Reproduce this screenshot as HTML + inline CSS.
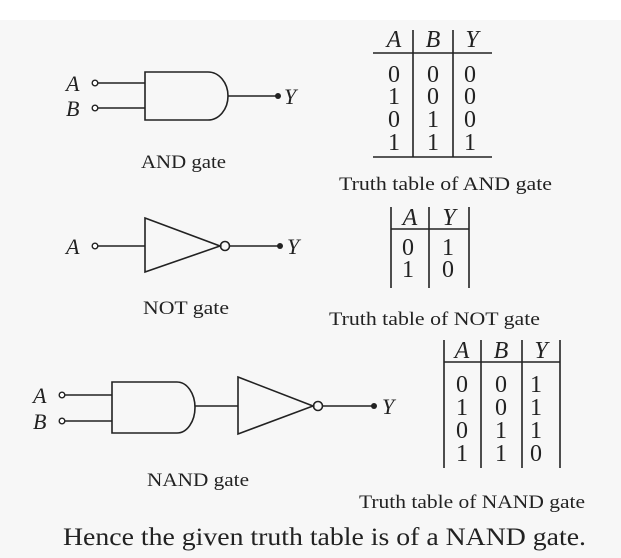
<!DOCTYPE html>
<html><head><meta charset="utf-8"><style>
html,body{margin:0;padding:0;background:#f7f7f7;}
svg{display:block}
text{font-family:"Liberation Serif",serif;fill:#222;}
.i{font-style:italic}
</style></head><body>
<svg width="621" height="558" viewBox="0 0 621 558" xmlns="http://www.w3.org/2000/svg">
<rect x="0" y="0" width="621" height="20" fill="#ffffff"/>
<g stroke="#222" stroke-width="1.6" fill="none">
<line x1="98" y1="83" x2="145" y2="83"/>
<line x1="98" y1="108" x2="145" y2="108"/>
<path d="M145,72 L208,72 A20,24 0 0 1 208,120 L145,120 Z"/>
<line x1="228" y1="96" x2="278" y2="96"/>
<line x1="98" y1="246" x2="145" y2="246"/>
<path d="M145,218 L220,246 L145,272 Z"/>
<circle cx="225" cy="246" r="4.5"/>
<line x1="230" y1="246" x2="280" y2="246"/>
<line x1="65" y1="395" x2="112" y2="395"/>
<line x1="65" y1="421" x2="112" y2="421"/>
<path d="M112,382 L177,382 A18,25.5 0 0 1 177,433 L112,433 Z"/>
<line x1="195" y1="406" x2="238" y2="406"/>
<path d="M238,377 L313,406 L238,434 Z"/>
<circle cx="318" cy="406" r="4.5"/>
<line x1="323" y1="406" x2="374" y2="406"/>
<line x1="373" y1="53" x2="492" y2="53"/>
<line x1="373" y1="157" x2="492" y2="157"/>
<line x1="413" y1="30" x2="413" y2="157"/>
<line x1="453" y1="30" x2="453" y2="157"/>
<line x1="391" y1="207" x2="391" y2="288"/>
<line x1="429" y1="207" x2="429" y2="288"/>
<line x1="469" y1="207" x2="469" y2="288"/>
<line x1="391" y1="229" x2="469" y2="229"/>
<line x1="444" y1="340" x2="444" y2="468"/>
<line x1="481" y1="340" x2="481" y2="468"/>
<line x1="522" y1="340" x2="522" y2="468"/>
<line x1="560" y1="340" x2="560" y2="468"/>
<line x1="444" y1="362" x2="560" y2="362"/>
</g>
<g fill="#fff" stroke="#222" stroke-width="1.4">
<circle cx="95" cy="83" r="2.8"/><circle cx="95" cy="108" r="2.8"/>
<circle cx="95" cy="246" r="2.8"/>
<circle cx="62" cy="395" r="2.8"/><circle cx="62" cy="421" r="2.8"/>
</g>
<g fill="#222"><circle cx="278" cy="96" r="3"/><circle cx="280" cy="246" r="3"/><circle cx="374" cy="406" r="3"/></g>
<g font-size="22" class="i">
<text x="66" y="91">A</text><text x="66" y="116">B</text><text x="284" y="104">Y</text>
<text x="66" y="254">A</text><text x="287" y="254">Y</text>
<text x="33" y="403">A</text><text x="33" y="429">B</text><text x="382" y="414">Y</text>
</g>
<g font-size="24" text-anchor="middle">
<text x="394" y="47" class="i">A</text><text x="433" y="47" class="i">B</text><text x="472" y="47" class="i">Y</text>
<text x="394" y="82">0</text><text x="433" y="82">0</text><text x="470" y="82">0</text>
<text x="394" y="104">1</text><text x="433" y="104">0</text><text x="470" y="104">0</text>
<text x="394" y="127">0</text><text x="433" y="127">1</text><text x="470" y="127">0</text>
<text x="394" y="150">1</text><text x="433" y="150">1</text><text x="470" y="150">1</text>
<text x="410" y="225" class="i">A</text><text x="449" y="225" class="i">Y</text>
<text x="408" y="255">0</text><text x="448" y="255">1</text>
<text x="408" y="277">1</text><text x="448" y="277">0</text>
<text x="462" y="358" class="i">A</text><text x="501" y="358" class="i">B</text><text x="541" y="358" class="i">Y</text>
<text x="462" y="392">0</text><text x="501" y="392">0</text><text x="536" y="392">1</text>
<text x="462" y="415">1</text><text x="501" y="415">0</text><text x="536" y="415">1</text>
<text x="462" y="438">0</text><text x="501" y="438">1</text><text x="536" y="438">1</text>
<text x="462" y="461">1</text><text x="501" y="461">1</text><text x="536" y="461">0</text>
</g>
<g font-size="19">
<text x="141" y="168" textLength="85" lengthAdjust="spacingAndGlyphs">AND gate</text>
<text x="339" y="190" textLength="213" lengthAdjust="spacingAndGlyphs">Truth table of AND gate</text>
<text x="143" y="314" textLength="86" lengthAdjust="spacingAndGlyphs">NOT gate</text>
<text x="329" y="325" textLength="211" lengthAdjust="spacingAndGlyphs">Truth table of NOT gate</text>
<text x="147" y="486" textLength="102" lengthAdjust="spacingAndGlyphs">NAND gate</text>
<text x="359" y="508" textLength="226" lengthAdjust="spacingAndGlyphs">Truth table of NAND gate</text>
</g>
<text x="63" y="545" font-size="25" textLength="523" lengthAdjust="spacingAndGlyphs">Hence the given truth table is of a NAND gate.</text>
</svg>
</body></html>
